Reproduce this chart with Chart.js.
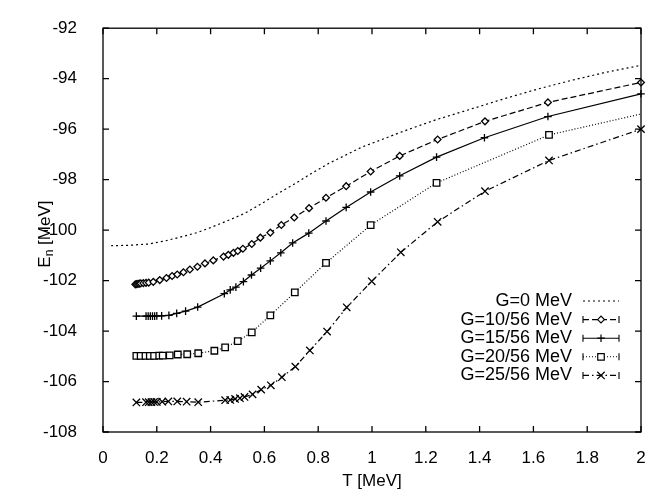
<!DOCTYPE html>
<html>
<head>
<meta charset="UTF-8">
<title>E_n vs T</title>
<script src="https://cdn.jsdelivr.net/npm/chart.js"></script>
<style>
  html, body { margin: 0; padding: 0; background: #fff; }
  #wrap { width: 660px; height: 499px; }
</style>
</head>
<body>
<div id="wrap"><canvas id="energyChart"></canvas></div>
<script>
// temperature T [MeV] and energy E_n [MeV] for each pairing strength G
const tG0 = [0.03, 0.1, 0.17, 0.23, 0.29, 0.35, 0.4, 0.47, 0.53, 0.59, 0.65, 0.72, 0.78, 0.84, 0.9, 0.96, 1.03, 1.1, 1.17, 1.24, 1.36, 1.49, 1.61, 1.74, 1.86, 2.0];
const eG0 = [-100.62, -100.6, -100.55, -100.43, -100.27, -100.1, -99.9, -99.6, -99.32, -98.95, -98.55, -98.12, -97.72, -97.35, -97.04, -96.72, -96.44, -96.15, -95.88, -95.62, -95.23, -94.8, -94.43, -94.07, -93.77, -93.47];

const tG10 = [0.12, 0.125, 0.13, 0.135, 0.14, 0.15, 0.16, 0.17, 0.187, 0.211, 0.236, 0.257, 0.276, 0.299, 0.323, 0.351, 0.379, 0.41, 0.448, 0.466, 0.485, 0.501, 0.52, 0.553, 0.585, 0.622, 0.663, 0.711, 0.766, 0.829, 0.904, 0.995, 1.103, 1.244, 1.42, 1.654, 2.0];
const eG10 = [-102.15, -102.14, -102.13, -102.12, -102.11, -102.1, -102.09, -102.08, -102.05, -101.98, -101.9, -101.82, -101.76, -101.67, -101.56, -101.45, -101.32, -101.2, -101.05, -100.98, -100.9, -100.83, -100.74, -100.55, -100.3, -100.1, -99.8, -99.5, -99.13, -98.72, -98.26, -97.68, -97.06, -96.41, -95.69, -94.94, -94.15];

const tG15 = [0.124, 0.16, 0.168, 0.176, 0.184, 0.192, 0.2, 0.218, 0.245, 0.274, 0.307, 0.352, 0.451, 0.473, 0.494, 0.522, 0.552, 0.586, 0.622, 0.661, 0.705, 0.765, 0.829, 0.904, 0.995, 1.103, 1.24, 1.418, 1.654, 2.0];
const eG15 = [-103.41, -103.41, -103.41, -103.41, -103.41, -103.41, -103.4, -103.4, -103.38, -103.3, -103.21, -103.05, -102.52, -102.37, -102.26, -102.04, -101.78, -101.51, -101.22, -100.9, -100.51, -100.12, -99.64, -99.1, -98.49, -97.85, -97.11, -96.34, -95.5, -94.6];

const tG20 = [0.124, 0.14, 0.158, 0.174, 0.19, 0.209, 0.222, 0.248, 0.278, 0.313, 0.354, 0.414, 0.454, 0.501, 0.553, 0.622, 0.713, 0.829, 0.995, 1.24, 1.658, 2.0];
const eG20 = [-104.98, -104.98, -104.98, -104.98, -104.98, -104.97, -104.97, -104.96, -104.93, -104.92, -104.88, -104.78, -104.65, -104.4, -104.05, -103.38, -102.47, -101.3, -99.8, -98.13, -96.23, -95.4];

const tG25 = [0.124, 0.16, 0.17, 0.18, 0.19, 0.2, 0.22, 0.243, 0.276, 0.311, 0.354, 0.454, 0.473, 0.491, 0.509, 0.526, 0.556, 0.588, 0.624, 0.665, 0.715, 0.769, 0.833, 0.906, 0.999, 1.107, 1.244, 1.42, 1.658, 2.0];
const eG25 = [-106.83, -106.82, -106.82, -106.82, -106.81, -106.81, -106.8, -106.79, -106.79, -106.8, -106.82, -106.74, -106.73, -106.69, -106.66, -106.61, -106.51, -106.32, -106.15, -105.83, -105.41, -104.77, -104.02, -103.06, -102.03, -100.88, -99.67, -98.46, -97.24, -96.0];

const seriesLabels = ['G=0 MeV', 'G=10/56 MeV', 'G=15/56 MeV', 'G=20/56 MeV', 'G=25/56 MeV'];
const xTickValues = [0, 0.2, 0.4, 0.6, 0.8, 1, 1.2, 1.4, 1.6, 1.8, 2];
const yTickValues = [-108, -106, -104, -102, -100, -98, -96, -94, -92];

const FONT = '"Liberation Sans", Arial, Helvetica, sans-serif';

function pts(ts, es) {
    return ts.map((t, i) => ({ x: t, y: es[i] }));
}

function series(label, ts, es, dash, style, radius) {
    return {
        label: label,
        data: pts(ts, es),
        borderColor: '#000',
        borderWidth: 1.2,
        borderDash: dash,
        pointStyle: style,
        pointRadius: radius,
        pointHoverRadius: radius,
        pointBorderColor: '#000',
        pointBackgroundColor: '#fff',
        pointBorderWidth: 1.3,
        tension: 0,
        fill: false,
        clip: false
    };
}

// frame with inward ticks, key box and y title, drawn gnuplot-style
const gnuplotFrame = {
    id: 'gnuplotFrame',
    afterDatasetsDraw(chart) {
        const ctx = chart.ctx;
        const a = chart.chartArea;
        const xs = chart.scales.x, ys = chart.scales.y;
        const tl = 6;
        ctx.save();
        ctx.strokeStyle = '#000';
        ctx.lineWidth = 1.3;
        ctx.setLineDash([]);
        ctx.strokeRect(a.left, a.top, a.right - a.left, a.bottom - a.top);
        ctx.beginPath();
        xTickValues.forEach(v => {
            const px = xs.getPixelForValue(v);
            ctx.moveTo(px, a.bottom); ctx.lineTo(px, a.bottom - tl);
            ctx.moveTo(px, a.top); ctx.lineTo(px, a.top + tl);
        });
        yTickValues.forEach(v => {
            const py = ys.getPixelForValue(v);
            ctx.moveTo(a.left, py); ctx.lineTo(a.left + tl, py);
            ctx.moveTo(a.right, py); ctx.lineTo(a.right - tl, py);
        });
        ctx.stroke();

        // key
        ctx.font = '18px ' + FONT;
        ctx.fillStyle = '#000';
        ctx.textAlign = 'right';
        ctx.textBaseline = 'middle';
        const textRight = 572, x1 = 583, x2 = 619, y0 = 301, dy = 18.6;
        chart.data.datasets.forEach((ds, i) => {
            const y = y0 + i * dy;
            ctx.fillText(ds.label, textRight, y);
            ctx.lineWidth = 1.1;
            ctx.setLineDash(ds.borderDash || []);
            ctx.beginPath();
            ctx.moveTo(x1, y); ctx.lineTo(x2, y);
            ctx.stroke();
            ctx.setLineDash([]);
            if (ds.label !== seriesLabels[0]) {
                ctx.beginPath();
                ctx.moveTo(x1, y - 3.5); ctx.lineTo(x1, y + 3.5);
                ctx.moveTo(x2, y - 3.5); ctx.lineTo(x2, y + 3.5);
                ctx.stroke();
                ctx.fillStyle = '#fff';
                ctx.lineWidth = 1.2;
                Chart.helpers.drawPoint(ctx, {
                    pointStyle: ds.pointStyle, radius: ds.keyRadius, borderWidth: 1.2, rotation: 0
                }, (x1 + x2) / 2, y);
                ctx.fillStyle = '#000';
            }
        });

        // y title: E with subscript n
        ctx.translate(45, (a.top + a.bottom) / 2 + 4);
        ctx.rotate(-Math.PI / 2);
        ctx.textAlign = 'left';
        const big = '17px ' + FONT, small = '12px ' + FONT;
        ctx.font = big;
        const wE = ctx.measureText('E').width;
        const wRest = ctx.measureText(' [MeV]').width;
        ctx.font = small;
        const wn = ctx.measureText('n').width;
        let x = -(wE + wn + wRest) / 2;
        ctx.font = big;
        ctx.fillText('E', x, 0);
        x += wE;
        ctx.font = small;
        ctx.fillText('n', x, 5);
        x += wn;
        ctx.font = big;
        ctx.fillText(' [MeV]', x, 0);
        ctx.restore();
    }
};

const datasets = [
    series(seriesLabels[0], tG0, eG0, [2, 3], 'circle', 0),
    series(seriesLabels[1], tG10, eG10, [6, 3], 'rectRot', 3.4),
    series(seriesLabels[2], tG15, eG15, [], 'cross', 3.8),
    series(seriesLabels[3], tG20, eG20, [1, 2], 'rect', 4.6),
    series(seriesLabels[4], tG25, eG25, [6, 3, 1.5, 3], 'crossRot', 5.2)
];
datasets.forEach(ds => { ds.keyRadius = ds.pointRadius; });
// the last square sits under the right border and is not marked
datasets[3].pointRadius = tG20.map((t, i) => i === tG20.length - 1 ? 0 : 4.6);

new Chart(document.getElementById('energyChart').getContext('2d'), {
    type: 'line',
    data: { datasets: datasets },
    options: {
        responsive: true,
        maintainAspectRatio: false,
        animation: false,
        layout: { padding: { left: 0, top: 12, right: 19, bottom: 0 } },
        plugins: {
            legend: { display: false },
            tooltip: { enabled: false }
        },
        scales: {
            x: {
                type: 'linear',
                min: 0,
                max: 2,
                afterFit: s => { s.height = 67; },
                afterBuildTicks: s => { s.ticks = xTickValues.map(v => ({ value: v })); },
                grid: { display: false },
                border: { display: false },
                ticks: {
                    padding: 8,
                    color: '#000',
                    font: { family: FONT, size: 17 },
                    maxRotation: 0,
                    callback: v => String(Math.round(v * 10) / 10)
                },
                title: {
                    display: true,
                    text: 'T [MeV]',
                    color: '#000',
                    font: { family: FONT, size: 17 },
                    padding: { top: 0, bottom: 7 }
                }
            },
            y: {
                min: -108,
                max: -92,
                afterFit: s => { s.width = 103; },
                afterBuildTicks: s => { s.ticks = yTickValues.map(v => ({ value: v })); },
                grid: { display: false },
                border: { display: false },
                ticks: {
                    padding: 18,
                    color: '#000',
                    font: { family: FONT, size: 17 },
                    callback: v => String(v)
                }
            }
        }
    },
    plugins: [gnuplotFrame]
});
</script>
</body>
</html>
